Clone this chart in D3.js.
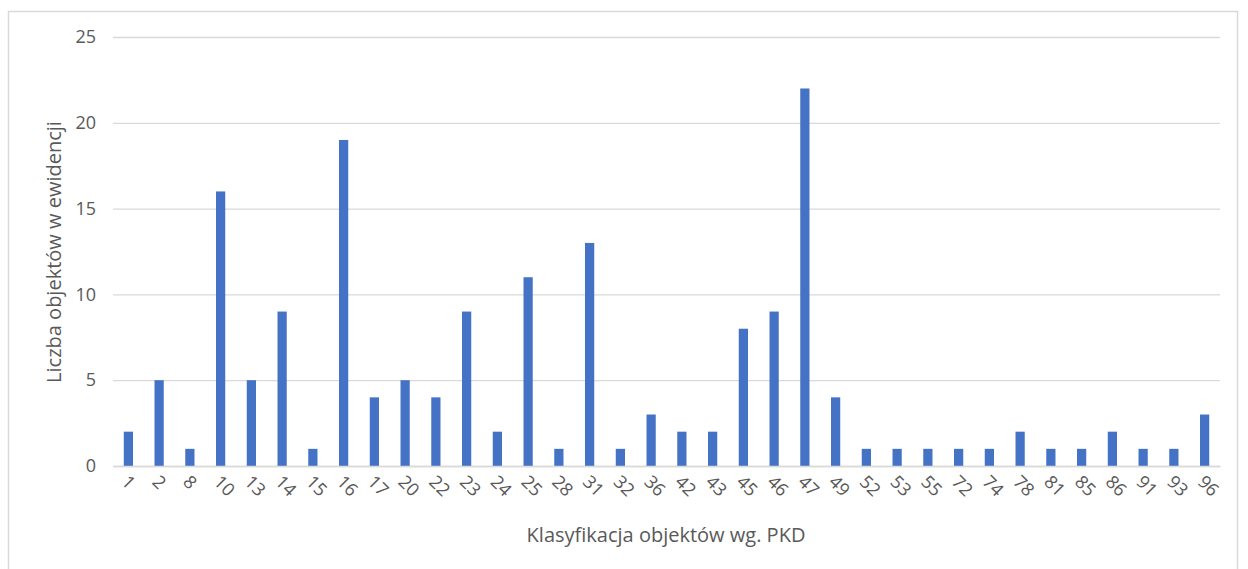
<!DOCTYPE html>
<html><head><meta charset="utf-8">
<script src="https://cdn.jsdelivr.net/npm/d3@7"></script>
<style>body{margin:0;background:#fff}svg{display:block}text{font-family:"Open Sans","Noto Sans",sans-serif;fill:#595959}</style>
</head><body><svg id="c" width="1248" height="569"></svg>
<script>
const categories = ["1","2","8","10","13","14","15","16","17","20","22","23","24","25","28","31","32","36","42","43","45","46","47","49","52","53","55","72","74","78","81","85","86","91","93","96"];
const values = [2,5,1,16,5,9,1,19,4,5,4,9,2,11,1,13,1,3,2,2,8,9,22,4,1,1,1,1,1,2,1,1,2,1,1,3];
const yTicks = [0,5,10,15,20,25];

const svg = d3.select("#c");
svg.append("rect").attr("x",8.5).attr("y",11.5).attr("width",1229).attr("height",600)
  .attr("fill","#fff").attr("stroke","#d9d9d9").attr("stroke-width",1.5);

const m = {l:113, r:1220, t:37, b:466};
const x = d3.scaleBand().domain(categories).range([m.l,m.r]).paddingInner(0.7).paddingOuter(0.35);
const y = d3.scaleLinear().domain([0,25]).range([m.b,m.t]);

const yAxis = svg.append("g").attr("transform",`translate(${m.l},0)`)
  .call(d3.axisLeft(y).tickValues(yTicks).tickSize(-(m.r-m.l)).tickPadding(17));
yAxis.select(".domain").remove();
yAxis.selectAll("line").attr("stroke","#d9d9d9").attr("stroke-width",1.3);
yAxis.selectAll("text").style("font-size","18px").attr("fill","#595959");

svg.append("g").selectAll("rect").data(values).join("rect")
  .attr("x",(d,i)=>x(categories[i])).attr("width",x.bandwidth())
  .attr("y",d=>y(d)).attr("height",d=>y(0)-y(d)).attr("fill","#4472C4");

const xAxis = svg.append("g").attr("transform",`translate(0,${m.b})`)
  .call(d3.axisBottom(x).tickSize(0).tickPadding(0));
xAxis.select(".domain").attr("stroke","#d9d9d9").attr("stroke-width",1.3);
xAxis.selectAll("text").style("font-size","18px").attr("fill","#595959")
  .attr("text-anchor","start").attr("dy",null)
  .attr("transform","translate(-8,17) rotate(45)");

svg.append("text").attr("x",666).attr("y",542).attr("text-anchor","middle")
  .style("font-size","20px").text("Klasyfikacja objektów wg. PKD");
svg.append("text").attr("transform","translate(61,252) rotate(-90)").attr("text-anchor","middle")
  .style("font-size","20px").text("Liczba objektów w ewidencji");
</script></body></html>
